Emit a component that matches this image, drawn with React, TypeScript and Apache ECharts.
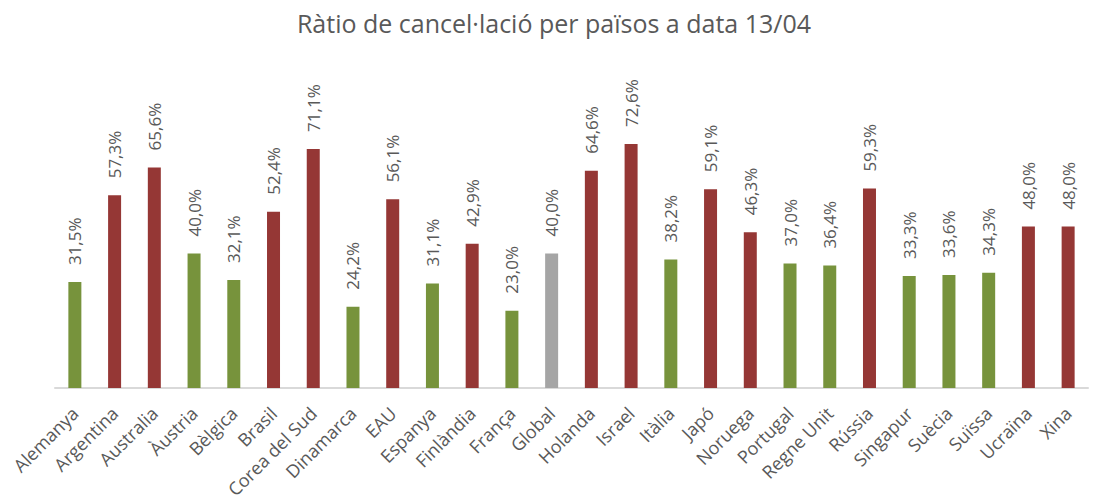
import React, { useEffect, useRef } from "react";
import * as echarts from "echarts";

const title = "Ràtio de cancel·lació per països a data 13/04";

const countries = [
  "Alemanya", "Argentina", "Australia", "Àustria", "Bèlgica", "Brasil",
  "Corea del Sud", "Dinamarca", "EAU", "Espanya", "Finlàndia", "França",
  "Global", "Holanda", "Israel", "Itàlia", "Japó", "Noruega", "Portugal",
  "Regne Unit", "Rússia", "Singapur", "Suècia", "Suïssa", "Ucraïna", "Xina",
];

const ratios = [
  31.5, 57.3, 65.6, 40.0, 32.1, 52.4, 71.1, 24.2, 56.1, 31.1, 42.9, 23.0,
  40.0, 64.6, 72.6, 38.2, 59.1, 46.3, 37.0, 36.4, 59.3, 33.3, 33.6, 34.3,
  48.0, 48.0,
];

const referenceCategory = "Global";
const threshold = 40.0;

const RED = "#953735";
const GREEN = "#77933C";
const GREY = "#A5A5A5";
const TEXT = "#595959";
const FONT = "'Open Sans', 'Noto Sans', sans-serif";

export default function App() {
  const ref = useRef<HTMLDivElement>(null);
  useEffect(() => {
    if (!ref.current) return;
    const chart = echarts.init(ref.current, undefined, { renderer: "svg" });
    const data = ratios.map((v, i) => ({
      value: v,
      itemStyle: {
        color:
          countries[i] === referenceCategory ? GREY : v > threshold ? RED : GREEN,
      },
    }));
    chart.setOption({
      animation: false,
      title: {
        text: title,
        left: "center",
        top: 5,
        textStyle: {
          color: TEXT,
          fontFamily: FONT,
          fontSize: 25,
          fontWeight: "normal",
        },
      },
      grid: { left: 55, right: 20, top: 119, bottom: 114, containLabel: false },
      xAxis: {
        type: "category",
        data: countries,
        axisLine: { lineStyle: { color: "#D9D9D9", width: 2 } },
        axisTick: { show: false },
        axisLabel: {
          rotate: 45,
          interval: 0,
          margin: 22,
          color: TEXT,
          fontFamily: FONT,
          fontSize: 18,
        },
      },
      yAxis: {
        type: "value",
        min: 0,
        max: 80,
        show: false,
        splitLine: { show: false },
      },
      series: [
        {
          type: "bar",
          data,
          barWidth: 13,
          label: {
            show: true,
            position: "top",
            rotate: 90,
            align: "left",
            verticalAlign: "middle",
            distance: 17,
            color: TEXT,
            fontFamily: FONT,
            fontSize: 17,
            formatter: (p: any) => p.value.toFixed(1).replace(".", ",") + "%",
          },
        },
      ],
    });
    return () => chart.dispose();
  }, []);
  return (
    <div
      ref={ref}
      style={{ position: "fixed", left: 0, top: 0, width: 1108, height: 502, background: "#fff" }}
    />
  );
}
